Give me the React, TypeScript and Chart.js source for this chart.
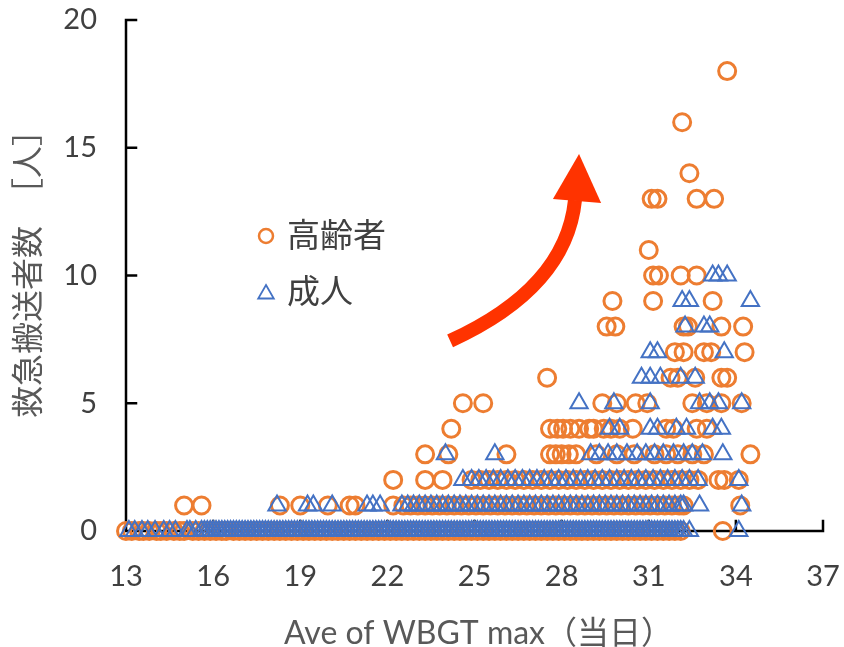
import React, { useEffect, useRef } from 'react';
import { Chart, registerables } from 'chart.js';

Chart.register(...registerables);

const xTicks = [13, 16, 19, 22, 25, 28, 31, 34, 37];
const yTicks = [0, 5, 10, 15, 20];
const seriesNames = ['高齢者', '成人'];
const xTitle = 'Ave of WBGT max（当日）';
const yTitle = '救急搬送者数　［人］';

// 高齢者 (circles): x values grouped by count
const elderlyAt0 = [13.0, 13.2, 13.45, 13.6, 13.8, 14.05, 14.2, 14.4, 14.65, 14.85, 15.0, 15.3, 15.5, 15.7, 15.9, 16.1, 16.3, 16.45, 16.7, 16.9, 17.1, 17.3, 17.5, 17.7, 17.9, 18.1, 18.3, 18.5, 18.7, 18.9, 19.1, 19.3, 19.5, 19.7, 19.9, 20.1, 20.3, 20.5, 20.7, 20.9, 21.1, 21.3, 21.5, 21.7, 21.9, 22.1, 22.3, 22.5, 22.7, 22.9, 23.1, 23.3, 23.5, 23.7, 23.9, 24.1, 24.3, 24.5, 24.7, 24.9, 25.1, 25.3, 25.5, 25.7, 25.9, 26.1, 26.3, 26.5, 26.7, 26.9, 27.1, 27.3, 27.5, 27.7, 27.9, 28.1, 28.3, 28.5, 28.7, 28.9, 29.1, 29.3, 29.5, 29.7, 29.9, 30.1, 30.3, 30.5, 30.7, 30.9, 31.1, 31.3, 31.5, 31.7, 31.9, 32.1, 33.55];
const elderlyAt1 = [15.0, 15.6, 18.3, 19.0, 19.95, 20.7, 20.9, 22.2, 22.55, 22.8, 23.05, 23.3, 23.55, 23.8, 24.05, 24.3, 24.55, 24.8, 25.05, 25.3, 25.55, 25.8, 26.05, 26.3, 26.55, 26.8, 27.05, 27.3, 27.55, 27.8, 28.05, 28.3, 28.55, 28.8, 29.05, 29.3, 29.55, 29.8, 30.05, 30.3, 30.55, 30.8, 31.05, 31.3, 31.55, 31.8, 32.05, 32.2, 34.15];
const elderlyAt2 = [22.2, 23.3, 23.9, 24.9, 25.2, 25.5, 25.8, 26.1, 26.4, 26.7, 27.0, 27.3, 27.6, 27.9, 28.2, 28.5, 28.8, 29.1, 29.4, 29.7, 30.0, 30.3, 30.6, 30.9, 31.2, 31.5, 31.8, 32.1, 32.4, 32.7, 33.4, 33.6, 34.1];
const elderlyAt3 = [23.3, 24.1, 26.1, 27.6, 27.8, 28.0, 28.25, 28.5, 29.2, 29.9, 30.5, 31.2, 31.6, 32.0, 32.5, 32.9, 34.5];
const elderlyAt4 = [24.2, 27.6, 27.85, 28.05, 28.3, 28.6, 28.95, 29.1, 29.45, 29.7, 30.0, 30.45, 31.6, 31.85, 32.65, 33.0];
const elderlyAt5 = [24.6, 25.3, 29.4, 29.9, 30.55, 30.95, 32.5, 33.0, 33.5, 34.2];
const elderlyAt6 = [27.5, 31.75, 32.0, 32.6, 33.5, 33.7];
const elderlyAt7 = [31.9, 32.2, 32.9, 33.15, 34.3];
const elderlyAt8 = [29.55, 29.85, 32.2, 32.35, 33.5, 34.25];
const elderlyAt9 = [29.75, 31.15, 33.2];
const elderlyAt10 = [31.15, 31.35, 32.1, 32.65];
const elderlyAt11 = [31.0];
const elderlyAt13 = [31.1, 31.3, 32.65, 33.25];
const elderlyAt14 = [32.4];
const elderlyAt16 = [32.15];
const elderlyAt18 = [33.7];

// 成人 (triangles): x values grouped by count
const adultAt0 = [13.1, 13.3, 13.55, 13.75, 14.0, 14.3, 14.5, 14.7, 15.1, 15.2, 15.4, 15.6, 15.7, 15.8, 15.9,
  16.0, 16.1, 16.2, 16.3, 16.4, 16.5, 16.6, 16.7, 16.8, 16.9, 17.0, 17.1, 17.2, 17.3, 17.4, 17.5, 17.6, 17.7, 17.8, 17.9,
  18.0, 18.1, 18.2, 18.3, 18.4, 18.5, 18.6, 18.7, 18.8, 18.9, 19.0, 19.1, 19.2, 19.3, 19.4, 19.5, 19.6, 19.7, 19.8, 19.9,
  20.0, 20.1, 20.2, 20.3, 20.4, 20.5, 20.6, 20.7, 20.8, 20.9, 21.0, 21.1, 21.2, 21.3, 21.4, 21.5, 21.6, 21.7, 21.8, 21.9,
  22.0, 22.1, 22.2, 22.3, 22.4, 22.5, 22.6, 22.7, 22.8, 22.9, 23.0, 23.1, 23.2, 23.3, 23.4, 23.5, 23.6, 23.7, 23.8, 23.9,
  24.0, 24.1, 24.2, 24.3, 24.4, 24.5, 24.6, 24.7, 24.8, 24.9, 25.0, 25.1, 25.2, 25.3, 25.4, 25.5, 25.6, 25.7, 25.8, 25.9,
  26.0, 26.1, 26.2, 26.3, 26.4, 26.5, 26.6, 26.7, 26.8, 26.9, 27.0, 27.1, 27.2, 27.3, 27.4, 27.5, 27.6, 27.7, 27.8, 27.9,
  28.0, 28.1, 28.2, 28.3, 28.4, 28.5, 28.6, 28.7, 28.8, 28.9, 29.0, 29.1, 29.2, 29.3, 29.4, 29.5, 29.6, 29.7, 29.8, 29.9,
  30.0, 30.1, 30.2, 30.3, 30.4, 30.5, 30.6, 30.7, 30.8, 30.9, 31.0, 31.1, 31.2, 31.3, 31.4, 31.5, 31.6, 31.7, 31.8, 31.9,
  32.0, 32.1, 32.2, 32.4, 34.1];
const adultAt1 = [18.2, 19.25, 19.45, 20.1, 21.3, 21.5, 21.75, 22.5, 22.7, 22.9, 23.1, 23.3, 23.5, 23.7, 23.9, 24.1, 24.3, 24.5, 24.7, 24.9, 25.1, 25.3, 25.5, 25.7, 25.9, 26.1, 26.3, 26.5, 26.7, 26.9, 27.1, 27.3, 27.5, 27.7, 27.9, 28.1, 28.3, 28.5, 28.7, 28.9, 29.1, 29.3, 29.5, 29.7, 29.9, 30.1, 30.3, 30.5, 30.7, 30.9, 31.1, 31.3, 31.5, 31.7, 31.9, 32.1, 32.2, 32.75, 34.2];
const adultAt2 = [24.6, 24.9, 25.15, 25.4, 25.65, 25.9, 26.15, 26.4, 26.65, 26.9, 27.15, 27.4, 27.65, 27.9, 28.15, 28.4, 28.65, 28.9, 29.15, 29.4, 29.65, 29.9, 30.15, 30.4, 30.65, 30.9, 31.15, 31.4, 31.65, 31.9, 32.15, 32.4, 32.7, 34.1];
const adultAt3 = [24.0, 25.7, 29.0, 29.3, 29.6, 29.9, 30.25, 30.6, 30.9, 31.2, 31.5, 31.85, 32.2, 32.5, 32.85, 33.55];
const adultAt4 = [29.65, 30.0, 31.05, 31.3, 31.95, 32.3, 33.2, 33.5];
const adultAt5 = [28.6, 29.8, 31.05, 32.75, 33.1, 33.4, 34.2];
const adultAt6 = [30.75, 31.05, 31.4, 32.1, 32.6];
const adultAt7 = [31.05, 31.3, 33.6];
const adultAt8 = [32.25, 32.9, 33.1];
const adultAt9 = [32.15, 32.4, 34.5];
const adultAt10 = [33.2, 33.4, 33.7];

const elderlyLevels: [number, number[]][] = [
  [0, elderlyAt0], [1, elderlyAt1], [2, elderlyAt2], [3, elderlyAt3], [4, elderlyAt4],
  [5, elderlyAt5], [6, elderlyAt6], [7, elderlyAt7], [8, elderlyAt8], [9, elderlyAt9],
  [10, elderlyAt10], [11, elderlyAt11], [13, elderlyAt13], [14, elderlyAt14],
  [16, elderlyAt16], [18, elderlyAt18],
];
const adultLevels: [number, number[]][] = [
  [0, adultAt0], [1, adultAt1], [2, adultAt2], [3, adultAt3], [4, adultAt4],
  [5, adultAt5], [6, adultAt6], [7, adultAt7], [8, adultAt8], [9, adultAt9], [10, adultAt10],
];

// Arrow annotation (in data units): tail, control, end; head base left/right, tip
const arrowPath = [[24.16, 7.44], [28.15, 9.51], [28.46, 12.95]];
const arrowHead = [[27.7, 12.99], [29.36, 12.84], [28.6, 14.76]];

const toPoints = (levels: [number, number[]][]) =>
  levels.flatMap(([y, xs]) => xs.map((x) => ({ x, y })));

const ORANGE = '#ED7D31';
const BLUE = '#4472C4';
const FONT = 'Lato, "Noto Sans CJK JP", sans-serif';

function drawTriangle(ctx: CanvasRenderingContext2D, x: number, y: number, r: number) {
  ctx.beginPath();
  ctx.moveTo(x, y - r);
  ctx.lineTo(x + r * Math.sin((2 * Math.PI) / 3), y - r * Math.cos((2 * Math.PI) / 3));
  ctx.lineTo(x + r * Math.sin((4 * Math.PI) / 3), y - r * Math.cos((4 * Math.PI) / 3));
  ctx.closePath();
  ctx.stroke();
}

const decorPlugin = {
  id: 'decor',
  beforeDatasetsDraw(chart: any) {
    const { ctx, scales } = chart;
    const xs = scales.x;
    const ys = scales.y;
    const x0 = xs.getPixelForValue(13);
    const x1 = xs.getPixelForValue(37);
    const y0 = ys.getPixelForValue(0);
    const y1 = ys.getPixelForValue(20);
    ctx.save();
    ctx.strokeStyle = '#000';
    ctx.lineWidth = 2.5;
    ctx.lineCap = 'square';
    ctx.beginPath();
    ctx.moveTo(x0, y1);
    ctx.lineTo(x0, y0);
    ctx.moveTo(x0, y0);
    ctx.lineTo(x1, y0);
    yTicks.forEach((v) => {
      const p = ys.getPixelForValue(v);
      ctx.moveTo(x0, p);
      ctx.lineTo(x0 + 10, p);
    });
    xTicks.forEach((v) => {
      const p = xs.getPixelForValue(v);
      ctx.moveTo(p, y0);
      ctx.lineTo(p, y0 - 10);
    });
    ctx.stroke();
    ctx.restore();
  },
  afterDatasetsDraw(chart: any) {
    const { ctx, scales, chartArea } = chart;
    const xs = scales.x;
    const ys = scales.y;
    const px = (p: number[]) => [xs.getPixelForValue(p[0]), ys.getPixelForValue(p[1])];
    ctx.save();
    // arrow
    const [a, b, c] = arrowPath.map(px);
    ctx.strokeStyle = '#FF3300';
    ctx.fillStyle = '#FF3300';
    ctx.lineWidth = 14;
    ctx.lineCap = 'butt';
    ctx.beginPath();
    ctx.moveTo(a[0], a[1]);
    ctx.quadraticCurveTo(b[0], b[1], c[0], c[1]);
    ctx.stroke();
    const [h1, h2, h3] = arrowHead.map(px);
    ctx.beginPath();
    ctx.moveTo(h1[0], h1[1]);
    ctx.lineTo(h2[0], h2[1]);
    ctx.lineTo(h3[0], h3[1]);
    ctx.closePath();
    ctx.fill();

    // legend
    const lx = chartArea.left + 140;
    const ly1 = chartArea.top + 216;
    const ly2 = chartArea.top + 272;
    ctx.strokeStyle = ORANGE;
    ctx.lineWidth = 2.5;
    ctx.beginPath();
    ctx.arc(lx, ly1, 7, 0, Math.PI * 2);
    ctx.stroke();
    ctx.strokeStyle = BLUE;
    ctx.lineWidth = 1.8;
    drawTriangle(ctx, lx, ly2 + 2, 9);
    ctx.fillStyle = '#404040';
    ctx.font = `33px ${FONT}`;
    ctx.textAlign = 'left';
    ctx.textBaseline = 'middle';
    ctx.fillText(seriesNames[0], lx + 21, ly1);
    ctx.fillText(seriesNames[1], lx + 21, ly2);

    // axis titles
    ctx.fillStyle = '#595959';
    ctx.font = `32px ${FONT}`;
    ctx.textAlign = 'center';
    ctx.fillText(xTitle, (chartArea.left + chartArea.right) / 2 + 4, 634);
    ctx.save();
    ctx.translate(29, 266);
    ctx.rotate(-Math.PI / 2);
    ctx.font = `32px ${FONT}`;
    ctx.fillText(yTitle, 0, 0);
    ctx.restore();
    ctx.restore();
  },
};

export default function App() {
  const ref = useRef<HTMLCanvasElement | null>(null);
  useEffect(() => {
    if (!ref.current) return;
    const chart = new Chart(ref.current, {
      type: 'scatter',
      data: {
        datasets: [
          {
            label: seriesNames[0],
            data: toPoints(elderlyLevels),
            order: 1,
            pointStyle: 'circle',
            radius: 8.5,
            borderWidth: 3,
            borderColor: ORANGE,
            backgroundColor: 'rgba(0,0,0,0)',
            clip: false,
          },
          {
            label: seriesNames[1],
            data: toPoints(adultLevels),
            order: 0,
            pointStyle: 'triangle',
            radius: 10,
            borderWidth: 2,
            borderColor: BLUE,
            backgroundColor: 'rgba(0,0,0,0)',
            clip: false,
          },
        ] as any,
      },
      options: {
        animation: false,
        responsive: false,
        events: [],
        layout: { padding: { top: 20, right: 21, left: 0, bottom: 0 } },
        plugins: { legend: { display: false }, tooltip: { enabled: false } },
        scales: {
          x: {
            type: 'linear',
            min: 13,
            max: 37,
            grid: { display: false, drawTicks: false },
            border: { display: false },
            ticks: { color: '#404040', font: { family: FONT, size: 29 }, padding: 28 },
            afterBuildTicks: (s: any) => {
              s.ticks = xTicks.map((v) => ({ value: v }));
            },
            afterFit: (s: any) => {
              s.height = 116;
              s.paddingLeft = 0;
              s.paddingRight = 0;
            },
          },
          y: {
            type: 'linear',
            min: 0,
            max: 20,
            grid: { display: false, drawTicks: false },
            border: { display: false },
            ticks: { color: '#404040', font: { family: FONT, size: 29 }, padding: 29 },
            afterBuildTicks: (s: any) => {
              s.ticks = yTicks.map((v) => ({ value: v }));
            },
            afterFit: (s: any) => {
              s.width = 126;
              s.paddingTop = 0;
              s.paddingBottom = 0;
            },
          },
        },
      },
      plugins: [decorPlugin],
    });
    return () => chart.destroy();
  }, []);
  return (
    <div style={{ position: 'fixed', left: 0, top: 0, width: 844, height: 647, background: '#fff' }}>
      <canvas ref={ref} width={844} height={647} style={{ width: 844, height: 647, display: 'block' }} />
    </div>
  );
}
